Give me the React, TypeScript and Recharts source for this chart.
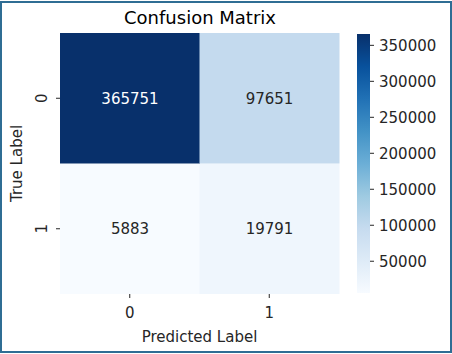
import React from 'react'
import { BarChart, Bar, XAxis, YAxis, Cell, LabelList, Label } from 'recharts'

// Confusion matrix counts (rows = true label, columns = predicted label)
const predictedLabels = ['0', '1']
const trueLabels = ['0', '1']
const row0Counts = [365751, 97651]
const row1Counts = [5883, 19791]
const colorbarTicks = [50000, 100000, 150000, 200000, 250000, 300000, 350000]

const FONT = '"DejaVu Sans", Verdana, sans-serif'
const TEXT = '#262626'

// matplotlib "Blues" colormap stops
const BLUES = ['#f7fbff', '#deebf7', '#c6dbef', '#9ecae1', '#6baed6', '#4292c6', '#2171b5', '#08519c', '#08306b']

const allCounts = [...row0Counts, ...row1Counts]
const vMin = Math.min(...allCounts)
const vMax = Math.max(...allCounts)

const hexToRgb = (h: string) => [1, 3, 5].map((i) => parseInt(h.slice(i, i + 2), 16))

const bluesAt = (t: number) => {
  const p = Math.max(0, Math.min(1, t)) * (BLUES.length - 1)
  const i = Math.min(Math.floor(p), BLUES.length - 2)
  const f = p - i
  const a = hexToRgb(BLUES[i])
  const b = hexToRgb(BLUES[i + 1])
  const c = a.map((v, k) => Math.round(v + (b[k] - v) * f))
  return `rgb(${c[0]},${c[1]},${c[2]})`
}

const colorFor = (v: number) => bluesAt((v - vMin) / (vMax - vMin))
const textFor = (v: number) => ((v - vMin) / (vMax - vMin) > 0.6 ? '#ffffff' : TEXT)

// each stacked segment is one cell of height 1
const tableData = predictedLabels.map((p, i) => ({
  pred: p,
  r0: 1,
  r1: 1,
  c0: row0Counts[i],
  c1: row1Counts[i],
}))

const colorbarData = [{ name: 'cb', value: vMax }]

const YTick = (props: any) => {
  const { x, y, payload } = props
  const label = payload.value === 1.5 ? trueLabels[0] : trueLabels[1]
  const tx = x - 7
  return (
    <text
      x={tx}
      y={y}
      transform={`rotate(-90, ${tx}, ${y})`}
      textAnchor="middle"
      fill={TEXT}
      fontSize={15}
      fontFamily={FONT}
    >
      {label}
    </text>
  )
}

const cellLabel = (key: 'c0' | 'c1') => (props: any) => {
  const { x, y, width, height, index } = props
  const v = tableData[index][key]
  return (
    <text
      x={x + width / 2}
      y={y + height / 2}
      dy="0.35em"
      textAnchor="middle"
      fill={textFor(v)}
      fontSize={15}
      fontFamily={FONT}
    >
      {v}
    </text>
  )
}

export default function App() {
  document.body.style.margin = '0'
  return (
    <div style={{ position: 'relative', width: 452, height: 354, background: '#fff', fontFamily: FONT }}>
      <div
        style={{
          position: 'absolute',
          left: 0,
          top: 1,
          width: 452,
          height: 352,
          boxSizing: 'border-box',
          border: '2px solid #2f6d94',
          pointerEvents: 'none',
          zIndex: 2,
        }}
      />
      <div
        style={{
          position: 'absolute',
          left: 0,
          width: 400,
          top: 7,
          textAlign: 'center',
          fontSize: 18,
          color: '#000',
          fontFamily: FONT,
        }}
      >
        Confusion Matrix
      </div>
      <div style={{ position: 'absolute', left: 0, top: 0 }}>
        <BarChart
          width={452}
          height={354}
          data={tableData}
          margin={{ top: 33, right: 113, bottom: 26, left: 10 }}
          barCategoryGap={0}
        >
          <XAxis
            dataKey="pred"
            height={34}
            axisLine={false}
            tickSize={4}
            tickMargin={9}
            tickLine={{ stroke: TEXT }}
            tick={{ fill: TEXT, fontSize: 15, fontFamily: FONT }}
          >
            <Label value="Predicted Label" position="insideBottom" offset={-14} fill={TEXT} fontSize={15} fontFamily={FONT} />
          </XAxis>
          <YAxis
            type="number"
            domain={[0, 2]}
            ticks={[0.5, 1.5]}
            width={50}
            axisLine={false}
            tickSize={4}
            tickLine={{ stroke: TEXT }}
            tick={<YTick />}
          >
            <Label
              value="True Label"
              angle={-90}
              position="insideLeft"
              offset={0}
              dx={7}
              fill={TEXT}
              fontSize={15}
              fontFamily={FONT}
              style={{ textAnchor: 'middle' }}
            />
          </YAxis>
          <Bar dataKey="r1" stackId="m" isAnimationActive={false}>
            {tableData.map((d, i) => (
              <Cell key={`r1-${i}`} fill={colorFor(d.c1)} />
            ))}
            <LabelList dataKey="c1" content={cellLabel('c1')} />
          </Bar>
          <Bar dataKey="r0" stackId="m" isAnimationActive={false}>
            {tableData.map((d, i) => (
              <Cell key={`r0-${i}`} fill={colorFor(d.c0)} />
            ))}
            <LabelList dataKey="c0" content={cellLabel('c0')} />
          </Bar>
        </BarChart>
      </div>
      <div style={{ position: 'absolute', left: 0, top: 0 }}>
        <BarChart
          width={452}
          height={354}
          data={colorbarData}
          margin={{ top: 34, right: 12, bottom: 61, left: 357 }}
          barCategoryGap={0}
        >
          <defs>
            <linearGradient id="bluesGrad" x1="0" y1="1" x2="0" y2="0">
              {BLUES.map((c, i) => (
                <stop key={c} offset={i / (BLUES.length - 1)} stopColor={c} />
              ))}
            </linearGradient>
          </defs>
          <XAxis dataKey="name" hide />
          <YAxis
            orientation="right"
            type="number"
            domain={[vMin, vMax]}
            ticks={colorbarTicks}
            width={70}
            axisLine={false}
            tickSize={4}
            tickMargin={5}
            tickLine={{ stroke: TEXT }}
            tick={{ fill: TEXT, fontSize: 15, fontFamily: FONT }}
          />
          <Bar dataKey="value" fill="url(#bluesGrad)" isAnimationActive={false} />
        </BarChart>
      </div>
    </div>
  )
}
